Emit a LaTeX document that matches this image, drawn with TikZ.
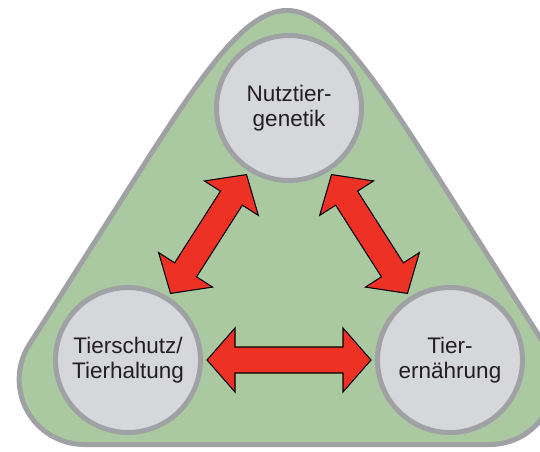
\documentclass[tikz,border=0pt]{standalone}
\usepackage{fontspec}
\setmainfont{Liberation Sans}
\usetikzlibrary{calc}
\definecolor{wiese}{RGB}{170,201,160}
\definecolor{rand}{RGB}{160,161,165}
\definecolor{kreisgrau}{RGB}{214,215,218}
\definecolor{pfeilrot}{RGB}{237,49,36}
\definecolor{schrift}{RGB}{35,31,32}

\newcommand{\blockpfeil}[2]{%
  \coordinate (s) at ($(#1.center)!1.58cm!(#2.center)$);
  \coordinate (e) at ($(#2.center)!1.58cm!(#1.center)$);
  \coordinate (hs) at ($(s)!0.56cm!(e)$);
  \coordinate (he) at ($(e)!0.56cm!(s)$);
  \draw[pfeil] (s) -- ($(hs)!0.64cm!-90:(s)$) -- ($(hs)!0.26cm!-90:(s)$)
    -- ($(he)!0.26cm!90:(e)$) -- ($(he)!0.64cm!90:(e)$) -- (e)
    -- ($(he)!0.64cm!-90:(e)$) -- ($(he)!0.26cm!-90:(e)$)
    -- ($(hs)!0.26cm!90:(s)$) -- ($(hs)!0.64cm!90:(s)$) -- cycle;}

\begin{document}
\begin{tikzpicture}[line width=0.1cm,
      kreis/.style={circle, draw=rand, fill=kreisgrau, minimum size=2.9cm,
        inner sep=0pt, align=center, text=schrift,
        font=\fontsize{12.8}{14.2}\selectfont},
      pfeil/.style={draw=black, fill=pfeilrot, line width=0.6pt, line join=miter}]
    \useasboundingbox (0,0) rectangle (10.8,9.02);
    \draw[rand, fill=wiese] (1.684,0.13) -- (9.796,0.13)
      arc[start angle=-90, end angle=32.5, radius=1.3] -- (8.668,5.62)
      .. controls (5.958,9.874) and (5.522,9.874) .. (2.812,5.62)
      -- (0.587,2.129) arc[start angle=147.5, end angle=270, radius=1.3] -- cycle;
    \node[kreis] at (5.78,6.86) (genetik) {Nutztier-\\genetik};
    \node[kreis] at (2.56,1.82) (schutz) {Tierschutz/\\Tierhaltung};
    \node[kreis] at (9.00,1.82) (ernaehrung) {Tier-\\ernährung};
    \blockpfeil{schutz}{genetik}
    \blockpfeil{genetik}{ernaehrung}
    \blockpfeil{schutz}{ernaehrung}
  \end{tikzpicture}
\end{document}
